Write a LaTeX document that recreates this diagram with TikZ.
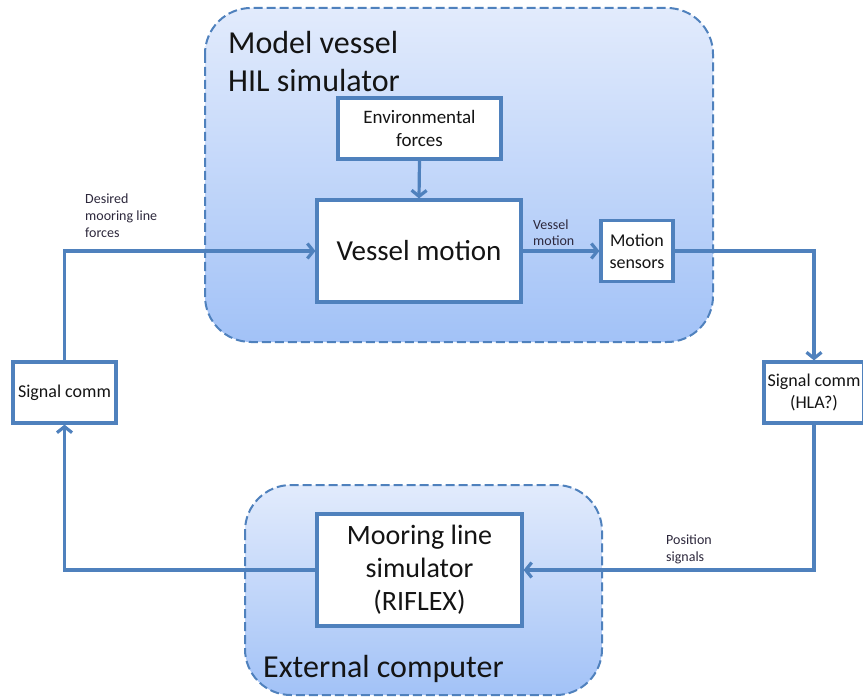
\documentclass[tikz,border=0pt]{standalone}
\usepackage{fontspec}
\setmainfont{Carlito}
\usetikzlibrary{arrows.meta}
\definecolor{lineblue}{RGB}{79,129,189}
\definecolor{grptop}{RGB}{226,235,252}
\definecolor{grpbot}{RGB}{162,194,247}
\definecolor{txt}{RGB}{20,20,20}
\definecolor{lbl}{RGB}{45,40,60}
\tikzset{
  group/.style={draw=lineblue, line width=2pt, dash pattern=on 9pt off 4pt, rounded corners=46pt, top color=grptop, bottom color=grpbot},
  blockbox/.style={draw=lineblue, line width=3.2pt, fill=white, text=txt, align=center, inner sep=0pt},
  conn/.style={draw=lineblue, line width=3.2pt},
  arr/.style={conn, -{Straight Barb[length=6pt,width=15pt]}},
  small/.style={font=\fontsize{14}{17}\selectfont, text=lbl, align=left, inner sep=0pt, anchor=base west},
  title/.style={font=\fontsize{32}{38.5}\selectfont, text=txt, align=left, inner sep=0pt, anchor=base west}
}
\begin{document}
\begin{tikzpicture}[x=1pt,y=-1pt]
\useasboundingbox (0,0) rectangle (863,698);
\fill[white] (0,0) rectangle (863,698);
% groups
\path[group] (205,8) rectangle (713,342);
\path[group] (245,485) rectangle (602,695);
\node[title] (t1) at (228,92) {Model vessel\\HIL simulator};
\node[title] (t2) at (263,677) {External computer};
% blocks
\node[blockbox, minimum width=163pt, minimum height=61pt, font=\fontsize{19}{23}\selectfont] (env) at (419.5,128.5) {Environmental\\forces};
\node[blockbox, minimum width=204pt, minimum height=102pt, font=\fontsize{29}{33}\selectfont] (vm) at (419,251) {Vessel motion};
\node[blockbox, minimum width=72pt, minimum height=61pt, font=\fontsize{18}{22}\selectfont] (ms) at (637,251) {Motion\\sensors};
\node[blockbox, minimum width=103pt, minimum height=61pt, font=\fontsize{18}{22}\selectfont] (scl) at (64.5,392.5) {Signal comm};
\node[blockbox, minimum width=100pt, minimum height=61pt, font=\fontsize{18}{22}\selectfont] (scr) at (814,392.5) {Signal comm\\(HLA?)};
\node[blockbox, minimum width=205pt, minimum height=112pt, font=\fontsize{28}{33}\selectfont] (mo) at (419.5,570) {Mooring line\\simulator\\(RIFLEX)};
% connectors
\draw[arr] (env.south) -- (vm.north);
\draw[arr] (vm.east) -- (ms.west);
\draw[arr] (ms.east) -| (scr.north);
\draw[arr] (scr.south) |- (mo.east);
\draw[arr] (mo.west) -| (scl.south);
\draw[arr] (scl.north) |- (vm.west);
% labels
\node[small] (l1) at (85,237) {Desired\\mooring line\\forces};
\node[small] (l2) at (533,246) {Vessel\\motion};
\node[small] (l3) at (666,561) {Position\\signals};
\end{tikzpicture}
\end{document}
